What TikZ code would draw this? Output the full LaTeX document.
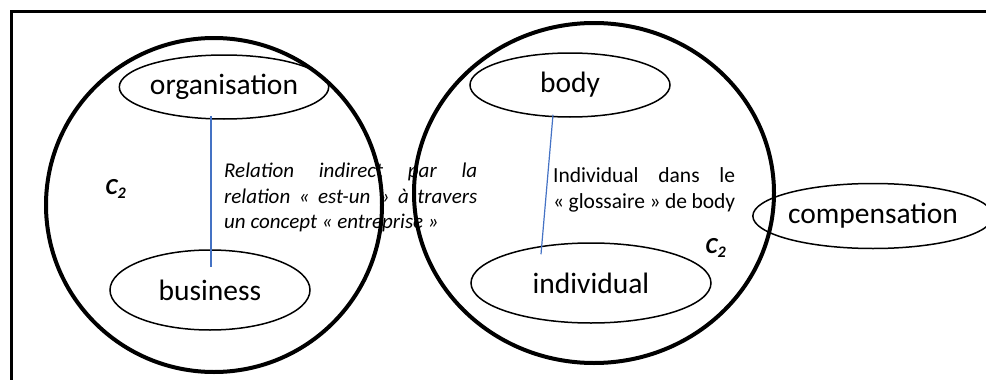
\documentclass[tikz,border=0pt]{standalone}
\usepackage{fontspec}
\setmainfont{Carlito}
\usetikzlibrary{shapes.geometric}
\definecolor{linkblue}{HTML}{4472C4}
\tikzset{
    concept/.style={draw,ellipse,line width=1.5pt,inner sep=0pt,font=\fontsize{29.5}{33}\selectfont},
    context/.style={line width=4pt},
    link/.style={draw=linkblue,line width=1.2pt},
    note/.style={inner sep=0pt,anchor=north west,align=justify},
    ctxlabel/.style={font=\fontsize{23}{27}\selectfont\bfseries\itshape}
}
\begin{document}
\begin{tikzpicture}[x=1pt,y=-1pt]
        \useasboundingbox (0,0) rectangle (986,380);
        %% frame
        \draw[line width=3pt] (986,11) -- (11,11) -- (11,380);
        %% first context
        \draw[context] (214,205) ellipse [x radius=168pt, y radius=167pt];
        \node[concept,minimum width=198pt,minimum height=64pt] (org) at (224,87) {organisation};
        \node[concept,minimum width=200pt,minimum height=80pt] (bus) at (210,290) {business};
        \node[ctxlabel] (ctxa) at (116,189) {C\textsubscript{2}};
        \draw[link] ([shift={(-13,-4)}]org.south) -- ([shift={(1,18)}]bus.north);
        \node[note,text width=253pt,font=\fontsize{21}{25.5}\selectfont\itshape] (rel) at (224,163)
            {Relation indirect par la\linebreak relation «~est-un~» à travers\linebreak un concept «~entreprise~»};
        %% second context
        \draw[context] (594,193) ellipse [x radius=180pt, y radius=170pt];
        \node[concept,minimum width=200pt,minimum height=64pt] (body) at (570,85) {body};
        \node[concept,minimum width=240pt,minimum height=80pt] (ind) at (591,283) {individual};
        \node[ctxlabel] (ctxb) at (716,248) {C\textsubscript{2}};
        \draw[link] ([shift={(-17,-3)}]body.south) -- ([shift={(-50,12)}]ind.north);
        \node[note,text width=182pt,font=\fontsize{21.5}{26}\selectfont] (glo) at (553,167)
            {Individual dans le\linebreak «~glossaire~» de body};
        %% outside
        \node[concept,minimum width=198pt,minimum height=65pt] (comp) at (873,216) {compensation};
    \end{tikzpicture}
\end{document}
